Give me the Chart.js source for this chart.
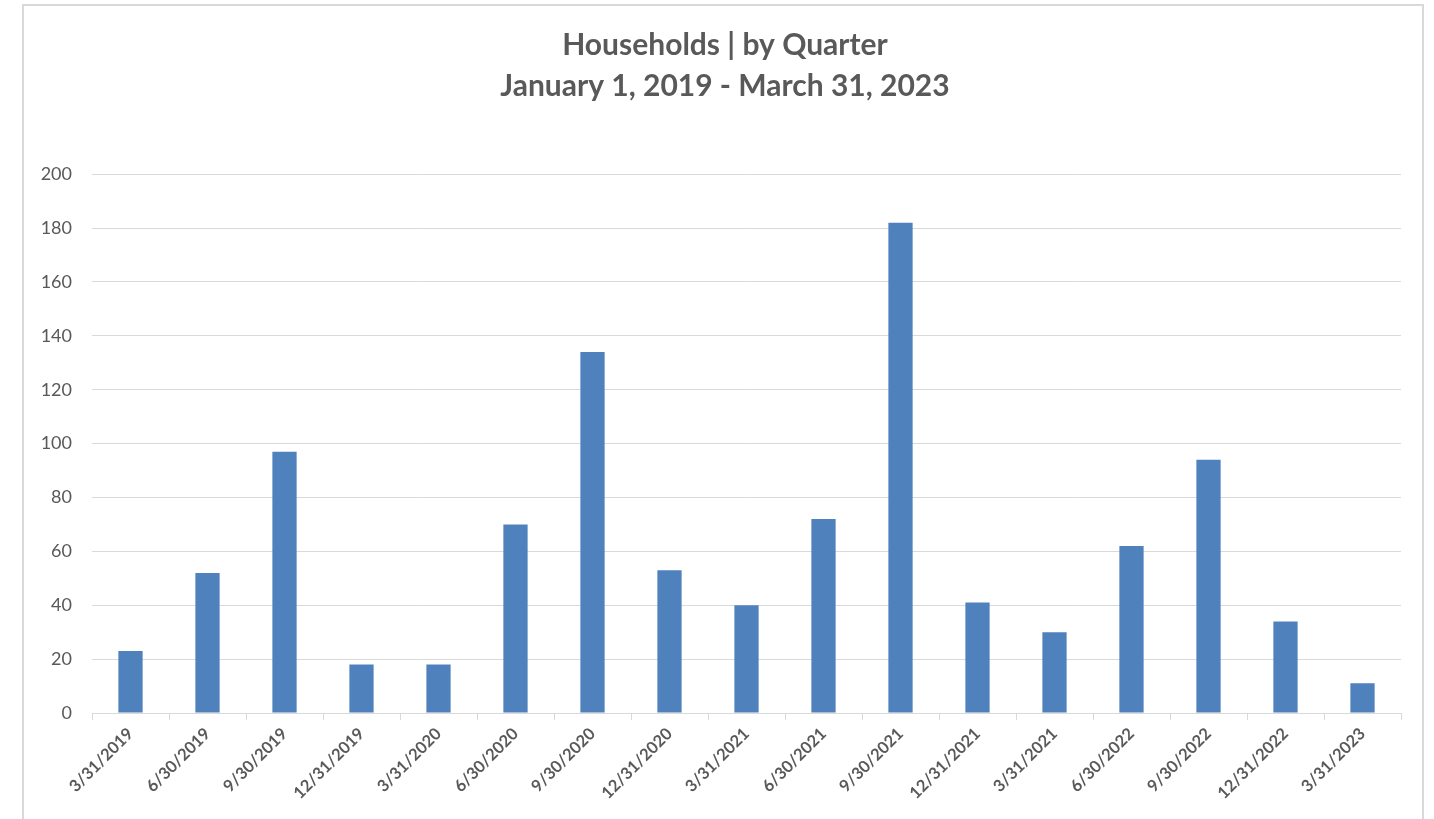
<!DOCTYPE html>
<html>
<head>
<meta charset="utf-8">
<script src="https://cdn.jsdelivr.net/npm/chart.js@4"></script>
<style>
  html, body { margin: 0; padding: 0; background: #fff; overflow: hidden; }
  .frame { position: absolute; left: 22px; top: 4px; width: 1398px; height: 840px; border: 2px solid #d9d9d9; }
  .wrap { position: absolute; left: 0; top: 0; width: 1434px; height: 819px; }
</style>
</head>
<body>
<div class="frame"></div>
<div class="wrap"><canvas id="chart" width="1434" height="819"></canvas></div>
<script>
// quarter end dates as labeled in the source (note the repeated 3/31/2021)
const quarters = ['3/31/2019', '6/30/2019', '9/30/2019', '12/31/2019', '3/31/2020', '6/30/2020',
  '9/30/2020', '12/31/2020', '3/31/2021', '6/30/2021', '9/30/2021', '12/31/2021', '3/31/2021',
  '6/30/2022', '9/30/2022', '12/31/2022', '3/31/2023'];
const households = [23, 52, 97, 18, 18, 70, 134, 53, 40, 72, 182, 41, 30, 62, 94, 34, 11];
const titleLines = ['Households | by Quarter', 'January 1, 2019 - March 31, 2023'];

const grey = '#595959';
const lineCol = '#d9d9d9';
const fontFam = 'Lato, "Open Sans", sans-serif';

// title is centred on the whole frame, not on the plot area
const centerTitle = {
  id: 'centerTitle',
  afterLayout(chart) {
    if (chart.titleBlock) chart.titleBlock.left = 49;
  }
};

new Chart(document.getElementById('chart'), {
  type: 'bar',
  data: {
    labels: quarters,
    datasets: [{
      data: households,
      backgroundColor: '#4f81bd',
      borderWidth: 0,
      categoryPercentage: 1,
      barPercentage: 0.315
    }]
  },
  options: {
    responsive: false,
    animation: false,
    layout: { padding: { left: 0, right: 33, top: 0, bottom: 0 } },
    plugins: {
      legend: { display: false },
      tooltip: { enabled: false },
      title: {
        display: true,
        text: titleLines,
        color: grey,
        font: { family: fontFam, size: 30, weight: 'bold', lineHeight: 1.37 },
        padding: { top: 25, bottom: 67 }
      }
    },
    scales: {
      x: {
        grid: { drawOnChartArea: false, drawTicks: true, tickLength: 7, color: lineCol, offset: true },
        border: { color: lineCol, width: 1 },
        ticks: {
          color: grey,
          minRotation: 45,
          maxRotation: 45,
          autoSkip: false,
          padding: 4,
          font: { family: fontFam, size: 16.5, weight: 'bold' }
        },
        afterFit: s => { s.height = 106; }
      },
      y: {
        min: 0,
        max: 200,
        grid: { color: lineCol, drawTicks: false },
        border: { display: false },
        ticks: {
          stepSize: 20,
          color: grey,
          padding: 20,
          font: { family: fontFam, size: 18 }
        },
        afterFit: s => { s.width = 92; }
      }
    }
  },
  plugins: [centerTitle]
});
</script>
</body>
</html>
